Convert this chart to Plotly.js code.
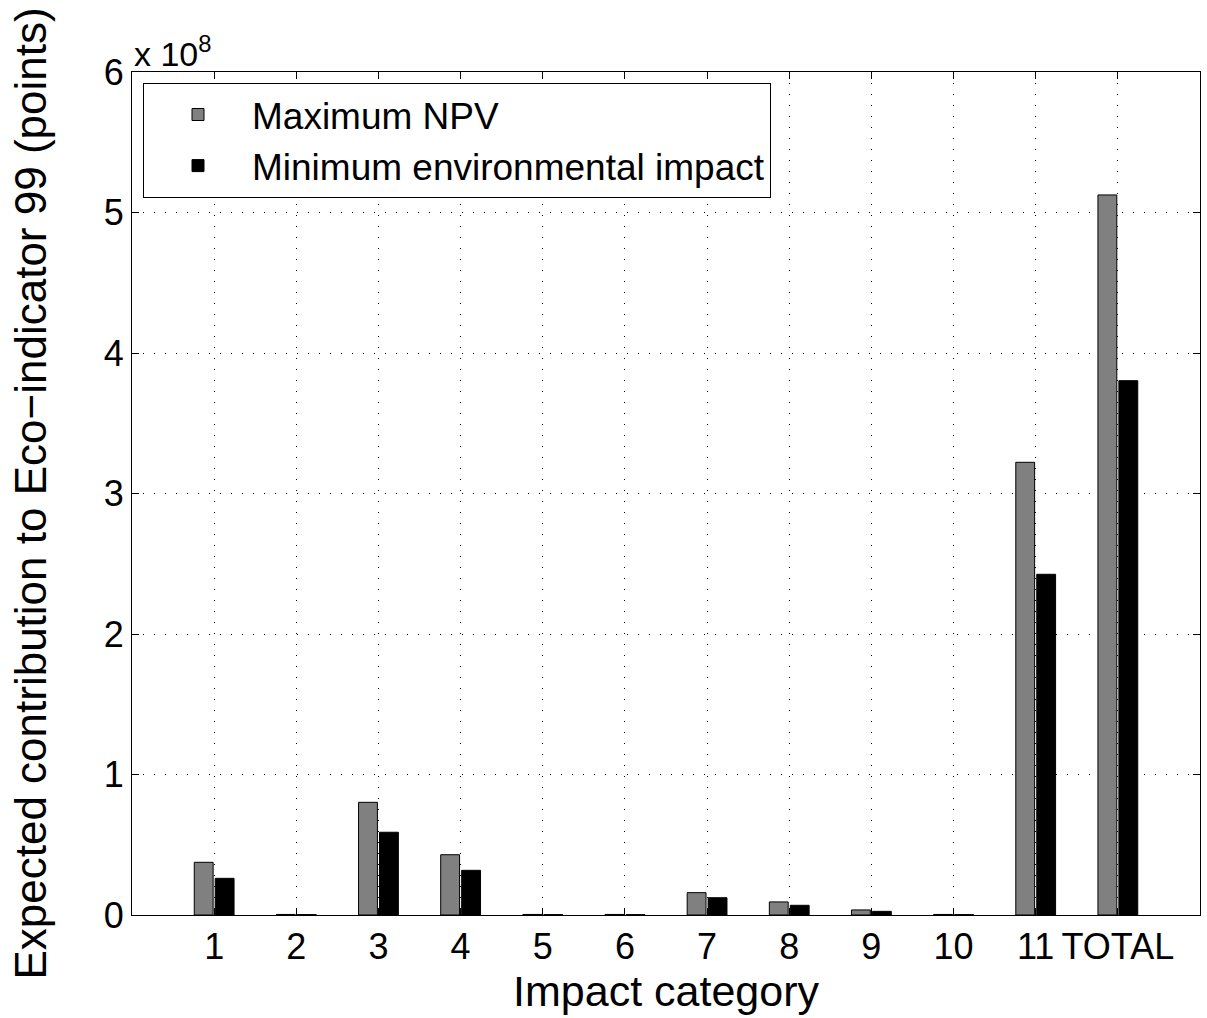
<!DOCTYPE html>
<html>
<head>
<meta charset="utf-8">
<script src="https://cdn.plot.ly/plotly-3.0.1.min.js"></script>
<style>html,body{margin:0;padding:0;background:#fff;}#chart{width:1207px;height:1018px;}</style>
</head>
<body>
<div id="chart"></div>
<script>
// Impact categories (x positions 1..12) and their tick labels
const categories = [1, 2, 3, 4, 5, 6, 7, 8, 9, 10, 11, 12];
const tickLabels = ["1", "2", "3", "4", "5", "6", "7", "8", "9", "10", "11", "TOTAL"];

// Expected contribution to Eco-indicator 99 (points)
const maxNPV = [3.75e7, 4e5, 8.02e7, 4.29e7, 4e5, 4e5, 1.59e7, 9.3e6, 3.6e6, 4e5, 3.222e8, 5.125e8];
const minEnv = [2.61e7, 3e5, 5.89e7, 3.18e7, 3e5, 3e5, 1.23e7, 6.9e6, 2.6e6, 3e5, 2.425e8, 3.803e8];

const yTickVals = [0, 1e8, 2e8, 3e8, 4e8, 5e8, 6e8];
const yTickText = ["0", "1", "2", "3", "4", "5", "6"];

const FONT = "Liberation Sans, Arial, Helvetica, sans-serif";

const traces = [
  {
    type: "bar", name: "Maximum NPV", x: categories, y: maxNPV,
    marker: { color: "#808080", line: { color: "#000", width: 1 } }
  },
  {
    type: "bar", name: "Minimum environmental impact", x: categories, y: minEnv,
    marker: { color: "#000000", line: { color: "#000", width: 1 } }
  }
];

const axisCommon = {
  showline: true, linecolor: "#000", linewidth: 1, mirror: "ticks",
  ticks: "inside", ticklen: 7, tickcolor: "#000", tickwidth: 1,
  showgrid: true, gridcolor: "#000", gridwidth: 1, griddash: "1px,10px",
  zeroline: false, tickfont: { family: FONT, size: 36, color: "#000" }
};

const layout = {
  width: 1207, height: 1018,
  margin: { l: 132, r: 7, t: 72, b: 103 },
  paper_bgcolor: "#fff", plot_bgcolor: "#fff",
  font: { family: FONT, color: "#000" },
  barmode: "group", bargap: 0.49, bargroupgap: 0.1,
  showlegend: true,
  legend: {
    x: 0.0103, y: 0.987, xanchor: "left", yanchor: "top",
    bgcolor: "#fff", bordercolor: "#000", borderwidth: 1,
    font: { family: FONT, size: 37, color: "#000" },
    itemwidth: 98, tracegroupgap: 0
  },
  xaxis: Object.assign({}, axisCommon, {
    range: [0, 13], tickmode: "array", tickvals: categories, ticktext: tickLabels,
    title: { text: "Impact category", font: { family: FONT, size: 43, color: "#000" }, standoff: 4 }
  }),
  yaxis: Object.assign({}, axisCommon, {
    range: [0, 6e8], tickmode: "array", tickvals: yTickVals, ticktext: yTickText,
    title: { text: "Expected contribution to Eco\u2212indicator 99 (points)", font: { family: FONT, size: 44, color: "#000" }, standoff: 43 }
  }),
  annotations: [
    {
      xref: "paper", yref: "paper", x: 0, y: 1, xanchor: "left", yanchor: "bottom",
      yshift: -3, xshift: 0,
      text: "x 10<sup>8</sup>", showarrow: false,
      font: { family: FONT, size: 34, color: "#000" }
    }
  ]
};

Plotly.newPlot("chart", traces, layout, { displayModeBar: false, staticPlot: true });
</script>
</body>
</html>
